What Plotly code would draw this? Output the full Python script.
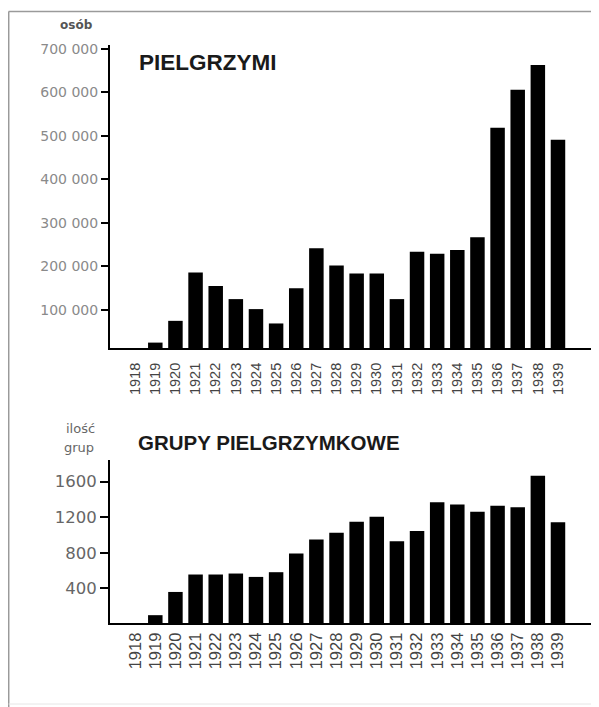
import plotly.graph_objects as go

years = [str(y) for y in range(1918, 1940)]
pilgrims = [0, 25000, 75000, 186000, 155000, 125000, 102000, 69000, 150000, 242000,
            202000, 184000, 184000, 125000, 234000, 229000, 238000, 267000, 519000,
            606000, 663000, 491000]
groups = [0, 100, 361, 557, 557, 568, 530, 583, 794, 951, 1026, 1149, 1206, 932,
          1045, 1368, 1345, 1262, 1330, 1312, 1667, 1143]

top_ticks = [100000, 200000, 300000, 400000, 500000, 600000, 700000]
top_ticktext = ["100 000", "200 000", "300 000", "400 000", "500 000", "600 000", "700 000"]
bot_ticks = [400, 800, 1200, 1600]
bot_ticktext = ["400", "800", "1200", "1600"]

# the page places the figure 8px in from the top-left corner
OFF = 8
W, H = 599 - OFF, 707 - OFF


def px(x):
    return (x - OFF) / W


def py(y):
    return 1 - (y - OFF) / H


fig = go.Figure()
fig.add_trace(go.Bar(x=years, y=pilgrims, marker=dict(color="black", line=dict(width=0)),
                     xaxis="x", yaxis="y", showlegend=False))
fig.add_trace(go.Bar(x=years, y=groups, marker=dict(color="black", line=dict(width=0)),
                     xaxis="x2", yaxis="y2", showlegend=False))

xcommon = dict(type="category", range=[-1.25, 22.64], showline=True, linecolor="black",
               linewidth=2, ticks="", tickangle=-90, showgrid=False, zeroline=False,
               fixedrange=True)

fig.update_layout(
    width=W, height=H,
    margin=dict(l=0, r=0, t=0, b=0, autoexpand=False),
    paper_bgcolor="white", plot_bgcolor="white",
    bargap=0.28,
    xaxis=dict(**xcommon, domain=[px(110), px(591)], anchor="y",
               tickfont=dict(family="Liberation Sans, Arial", size=14.5, color="#444"),
               ticklabelstandoff=7),
    yaxis=dict(domain=[py(348), py(45)], anchor="x", range=[12600, 709000],
               showline=True, linecolor="black", linewidth=2, ticks="outside",
               ticklen=7, tickwidth=2, tickcolor="black", tickvals=top_ticks,
               ticktext=top_ticktext, showgrid=False, zeroline=False,
               tickfont=dict(family="DejaVu Sans", size=14, color="#8a8a8a")),
    xaxis2=dict(**xcommon, domain=[px(110), px(591)], anchor="y2",
                tickfont=dict(family="Liberation Sans, Arial", size=16.5, color="#444"),
                ticklabelstandoff=1),
    yaxis2=dict(domain=[py(623), py(460)], anchor="x2", range=[12, 1844],
                showline=True, linecolor="black", linewidth=2, ticks="outside",
                ticklen=8, tickwidth=2, tickcolor="black", tickvals=bot_ticks,
                ticktext=bot_ticktext, showgrid=False, zeroline=False,
                tickfont=dict(family="DejaVu Sans", size=16.5, color="#666")),
)

annots = [
    dict(text="<b>PIELGRZYMI</b>", x=px(137), y=py(62), xanchor="left", yanchor="middle",
         font=dict(family="Liberation Sans, Arial", size=22.5, color="#1a1a1a")),
    dict(text="<b>GRUPY PIELGRZYMKOWE</b>", x=px(136), y=py(442), xanchor="left",
         yanchor="middle", font=dict(family="Liberation Sans, Arial", size=20.5, color="#1a1a1a")),
    dict(text="<b>osób</b>", x=px(76), y=py(25), xanchor="center", yanchor="middle",
         font=dict(family="DejaVu Sans", size=12, color="#555")),
    dict(text="ilość", x=px(80), y=py(428), xanchor="center", yanchor="middle",
         font=dict(family="DejaVu Sans", size=13, color="#666")),
    dict(text="grup", x=px(79), y=py(447), xanchor="center", yanchor="middle",
         font=dict(family="DejaVu Sans", size=13, color="#666")),
]
for a in annots:
    fig.add_annotation(xref="paper", yref="paper", showarrow=False, **a)

# outer frame lines
fig.add_shape(type="line", xref="paper", yref="paper", x0=0.001, x1=1, y0=py(11.5), y1=py(11.5),
              line=dict(color="#9a9a9a", width=1.5))
fig.add_shape(type="line", xref="paper", yref="paper", x0=0.0012, x1=0.0012, y0=py(11.5), y1=0,
              line=dict(color="#9a9a9a", width=1.5))
fig.add_shape(type="line", xref="paper", yref="paper", x0=0.001, x1=1, y0=py(704), y1=py(704),
              line=dict(color="#e6e6e6", width=1))

fig.write_html("out.html")
